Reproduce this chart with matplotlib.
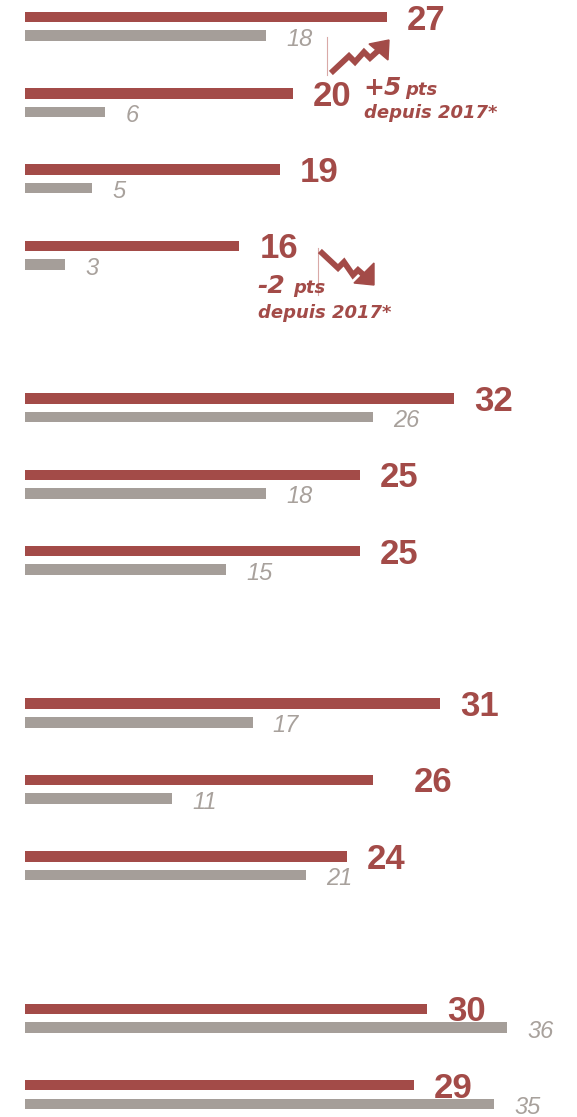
import matplotlib
matplotlib.use("Agg")
import matplotlib.pyplot as plt
import matplotlib.transforms as mtransforms
from matplotlib.patches import Polygon

slots = [0, 1, 2, 3, 5, 6, 7, 9, 10, 11, 13, 14]   # row slots, empty slots separate groups
red_vals = [27, 20, 19, 16, 32, 25, 25, 31, 26, 24, 30, 29]
gray_vals = [18, 6, 5, 3, 26, 18, 15, 17, 11, 21, 36, 35]

RED = "#A34B48"
GRAY_BAR = "#A59E99"
GRAY_TXT = "#A8A19C"
LINE = "#D9A9A7"

W, H, DPI = 577, 1117, 100
PX_X = 13.4      # pixels per unit
PX_Y = 76.3      # pixels per slot

fig = plt.figure(figsize=(W / DPI, H / DPI), dpi=DPI)
ax = fig.add_axes([0, 0, 1, 1])
ax.set_xlim(-25 / PX_X, (W - 25) / PX_X)
ax.set_ylim((H - 26.3) / PX_Y, -26.3 / PX_Y)
ax.axis("off")

off = 9.3 / PX_Y
bh = 10.5 / PX_Y
red_y = [s - off for s in slots]
gray_y = [s + off for s in slots]

ax.barh(red_y, red_vals, height=bh, color=RED, zorder=2)
ax.barh(gray_y, gray_vals, height=bh, color=GRAY_BAR, zorder=1)

# extra gap for the odd label placement
extra_pad = {8: 20}

for i, (y, v) in enumerate(zip(red_y, red_vals)):
    x = v + (20 + extra_pad.get(i, 0)) / PX_X
    ax.text(x, y + 12.5 / PX_Y, str(v), color=RED, fontsize=25, fontweight="bold",
            family="Liberation Sans", va="baseline", ha="left", zorder=4)

for y, v in zip(gray_y, gray_vals):
    ax.text(v + 20 / PX_X, y + 10 / PX_Y, str(v), color=GRAY_TXT, fontsize=17,
            style="italic", family="Liberation Sans", va="baseline", ha="left", zorder=3)

# pixel transform for the annotations (origin top-left)
px = mtransforms.Affine2D().scale(1 / DPI).scale(1, -1).translate(0, H / DPI) + fig.dpi_scale_trans

ann = dict(color=RED, family="DejaVu Sans", fontweight="bold", style="italic",
           va="baseline", ha="left", transform=px)

# +5 pts annotation
ax.plot([327, 327], [37, 75], color=LINE, lw=0.8, transform=px)
ax.plot([333, 349, 355, 364, 370, 380], [71, 56, 62, 52, 58, 49], color=RED,
        lw=4.2, solid_joinstyle="miter", transform=px)
ax.add_patch(Polygon([(369, 44), (389, 40), (388, 60)], closed=True, color=RED, transform=px))
ax.text(363, 95, "+5", fontsize=18, **ann)
ax.text(405, 95, "pts", fontsize=13, **ann)
ax.text(364, 118, "depuis 2017*", fontsize=13, **ann)

# -2 pts annotation
ax.plot([318, 318], [248, 295], color=LINE, lw=0.8, transform=px)
ax.plot([322, 338, 344, 353, 358, 366], [253, 268, 262, 275, 270, 277], color=RED,
        lw=4.2, solid_joinstyle="miter", transform=px)
ax.add_patch(Polygon([(374, 263), (374, 285), (354, 283)], closed=True, color=RED, transform=px))
ax.text(257, 293, "-2", fontsize=18, **ann)
ax.text(293, 293, "pts", fontsize=13, **ann)
ax.text(258, 318, "depuis 2017*", fontsize=13, **ann)

fig.savefig("out.png", dpi=DPI)
